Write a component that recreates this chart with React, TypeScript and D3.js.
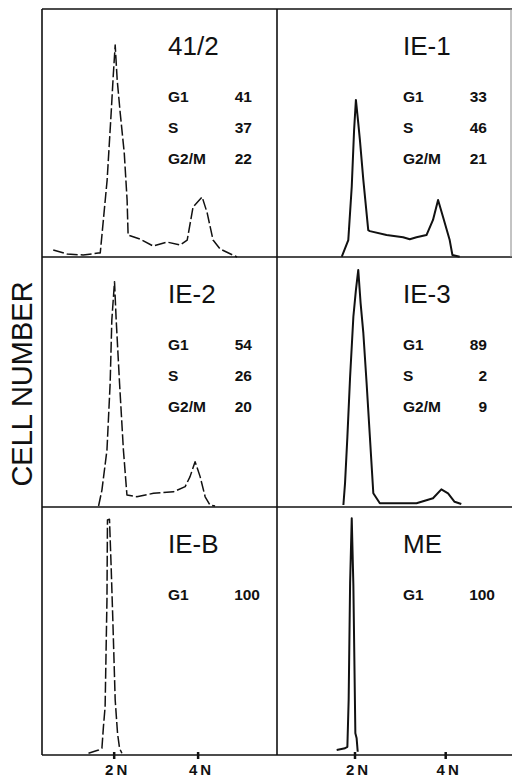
import * as d3 from "d3";

// DNA histograms, x in channels (2N = 50, 4N = 100), y as % of panel height
const HIST_41_2: [number, number][] = [
  [13.7, 2.8], [22, 1.2], [31.5, 0.8], [40.5, 1.6], [41.7, 1.6], [45.8, 30.9], [48.2, 57.8],
  [49.4, 72.3], [50.6, 85.1], [51.8, 71.1], [53.6, 57.8], [56, 41.8], [57.7, 22.9],
  [58.3, 8.8], [65.5, 7.2], [73.2, 4.4], [81.5, 6.0], [89.3, 4.8], [93.5, 6.8],
  [97, 20.1], [102.4, 24.1], [105.4, 17.7], [108.9, 6.8], [113.1, 3.2], [123.2, 0],
];
const HIST_IE1: [number, number][] = [
  [42.7, 0.1], [46.3, 6.8], [48.2, 28.2], [49.5, 51], [50.5, 63.1], [51.8, 53.8],
  [52.7, 47], [54.6, 30.9], [57.3, 10.8], [58.2, 10.4], [67.4, 8.8], [76.5, 7.9],
  [80.2, 7.1], [83.9, 7.9], [89.4, 8.8], [93, 14.9], [95.8, 22.9], [98.5, 16.2],
  [102.2, 6.8], [103.7, 0.8], [107.7, 0.1],
];
const HIST_IE2: [number, number][] = [
  [40.7, 0.4], [42.7, 6.8], [45.7, 22.9], [47.6, 49.7], [48.6, 75.1], [50.2, 90.5],
  [51.2, 75.1], [53.2, 49.7], [55.5, 22.9], [57.6, 4.8], [63.5, 4.1], [73.4, 5.5],
  [85.3, 6.1], [92.3, 8.2], [95.2, 12.2], [98.2, 18.2], [101.2, 12.2], [104.2, 4.1],
  [107.1, 0.8], [110.1, 0.4],
];
const HIST_IE3: [number, number][] = [
  [43.6, 0.8], [44.5, 9.5], [45.8, 28.2], [47.3, 52.3], [49.1, 76.4], [50.5, 87.1],
  [51.8, 95.2], [53.1, 81.8], [54.6, 69.8], [56.4, 49.7], [58.2, 28.2], [60.1, 5.5],
  [63.7, 1.5], [83.9, 1.5], [93, 3.5], [97.6, 7.1], [101.3, 5.5], [104.9, 2.1], [108.6, 1.2],
];
const HIST_IEB: [number, number][] = [
  [34.7, 0.7], [40.7, 2], [42.7, 2.7], [43.6, 11.4], [44.6, 19.4], [45.7, 62.2],
  [46, 94.4], [47.2, 94.7], [48.2, 75.6], [49.2, 54.2], [50.6, 22.1], [52, 8.7],
  [53.2, 2.7], [54.6, 0.7],
];
const HIST_ME: [number, number][] = [
  [39.9, 2], [44.5, 2.7], [45.8, 3.3], [46.5, 22.1], [47.3, 69], [48.2, 95.1],
  [49.1, 68.3], [50.2, 8.7], [50.9, 6.7], [51.5, 1.3],
];

const NAMES = ["41/2", "IE-1", "IE-2", "IE-3", "IE-B", "ME"];
const PHASES = ["G1", "S", "G2/M"];
const PCT_41_2 = [41, 37, 22];
const PCT_IE1 = [33, 46, 21];
const PCT_IE2 = [54, 26, 20];
const PCT_IE3 = [89, 2, 9];
const PCT_IEB = [100];
const PCT_ME = [100];

const X_TICKS = [50, 100];
const X_TICK_LABELS = ["2N", "4N"];
const X_DOMAIN_LEFT = [7, 147];
const X_DOMAIN_RIGHT = [7, 136];

const HISTS = [HIST_41_2, HIST_IE1, HIST_IE2, HIST_IE3, HIST_IEB, HIST_ME];
const PCTS = [PCT_41_2, PCT_IE1, PCT_IE2, PCT_IE3, PCT_IEB, PCT_ME];

const W = 512;
const H = 779;
const COL_X = [42, 277, 511];
const ROW_Y = [9, 257, 507, 755];

const SANS = "'Liberation Sans', Arial, Helvetica, sans-serif";

export default function App() {
  const xLeft = d3.scaleLinear().domain(X_DOMAIN_LEFT).range([COL_X[0], COL_X[1]]);
  const xRight = d3.scaleLinear().domain(X_DOMAIN_RIGHT).range([COL_X[1], COL_X[2]]);

  const panels = NAMES.map((name, i) => {
    const col = i % 2;
    const row = Math.floor(i / 2);
    const x = col === 0 ? xLeft : xRight;
    const y = d3.scaleLinear().domain([0, 100]).range([ROW_Y[row + 1], ROW_Y[row + 1] - 249]);
    const line = d3.line<[number, number]>()
      .x((d) => x(d[0]))
      .y((d) => y(d[1]));
    const x0 = COL_X[col];
    const top = ROW_Y[row];
    return (
      <g key={name}>
        <path
          d={line(HISTS[i]) || ""}
          fill="none"
          stroke="#111"
          strokeWidth={col === 0 ? 1.5 : 2}
          strokeDasharray={col === 0 ? "11 3" : undefined}
          strokeLinejoin="round"
        />
        <text x={x0 + 126} y={top + 46} fontFamily={SANS} fontSize={26} fill="#111">
          {name}
        </text>
        {PCTS[i].map((v, k) => (
          <g key={k} fontFamily={SANS} fontWeight="bold" fontSize={15.5} fill="#111">
            <text x={x0 + 126} y={top + 93 + k * 31}>{PHASES[k]}</text>
            <text x={x0 + 210 + (v >= 100 ? 8 : 0)} y={top + 93 + k * 31} textAnchor="end">
              {v}
            </text>
          </g>
        ))}
      </g>
    );
  });

  return (
    <svg
      width={W}
      height={H}
      style={{ position: "absolute", left: 0, top: 0, background: "#fff" }}
    >
      <rect x={0} y={0} width={W} height={H} fill="#fff" />
      {/* frame and panel dividers */}
      <g stroke="#111" strokeWidth={1.6}>
        {ROW_Y.map((yy) => (
          <line key={yy} x1={COL_X[0]} x2={W} y1={yy} y2={yy} />
        ))}
        <line x1={COL_X[0]} x2={COL_X[0]} y1={ROW_Y[0]} y2={ROW_Y[3]} />
        <line x1={COL_X[1]} x2={COL_X[1]} y1={ROW_Y[0]} y2={ROW_Y[3]} />
      </g>
      <line x1={COL_X[2]} x2={COL_X[2]} y1={ROW_Y[0]} y2={ROW_Y[1]} stroke="#888" strokeWidth={1} />
      {panels}
      {/* x ticks */}
      {[xLeft, xRight].map((x, c) =>
        X_TICKS.map((t, k) => (
          <g key={`${c}-${k}`}>
            <line x1={x(t)} x2={x(t)} y1={ROW_Y[3] - 3} y2={ROW_Y[3] + 4} stroke="#111" strokeWidth={2.5} />
            <text
              x={x(t) + 3.5}
              y={775}
              textAnchor="middle"
              fontFamily={SANS}
              fontWeight="bold"
              fontSize={15}
              letterSpacing={3}
              fill="#111"
            >
              {X_TICK_LABELS[k]}
            </text>
          </g>
        ))
      )}
      <text
        transform={`translate(22,${(ROW_Y[0] + ROW_Y[3]) / 2 + 2}) rotate(-90)`}
        dy="0.36em"
        textAnchor="middle"
        fontFamily={SANS}
        fontSize={29}
        fill="#111"
      >
        CELL NUMBER
      </text>
    </svg>
  );
}
